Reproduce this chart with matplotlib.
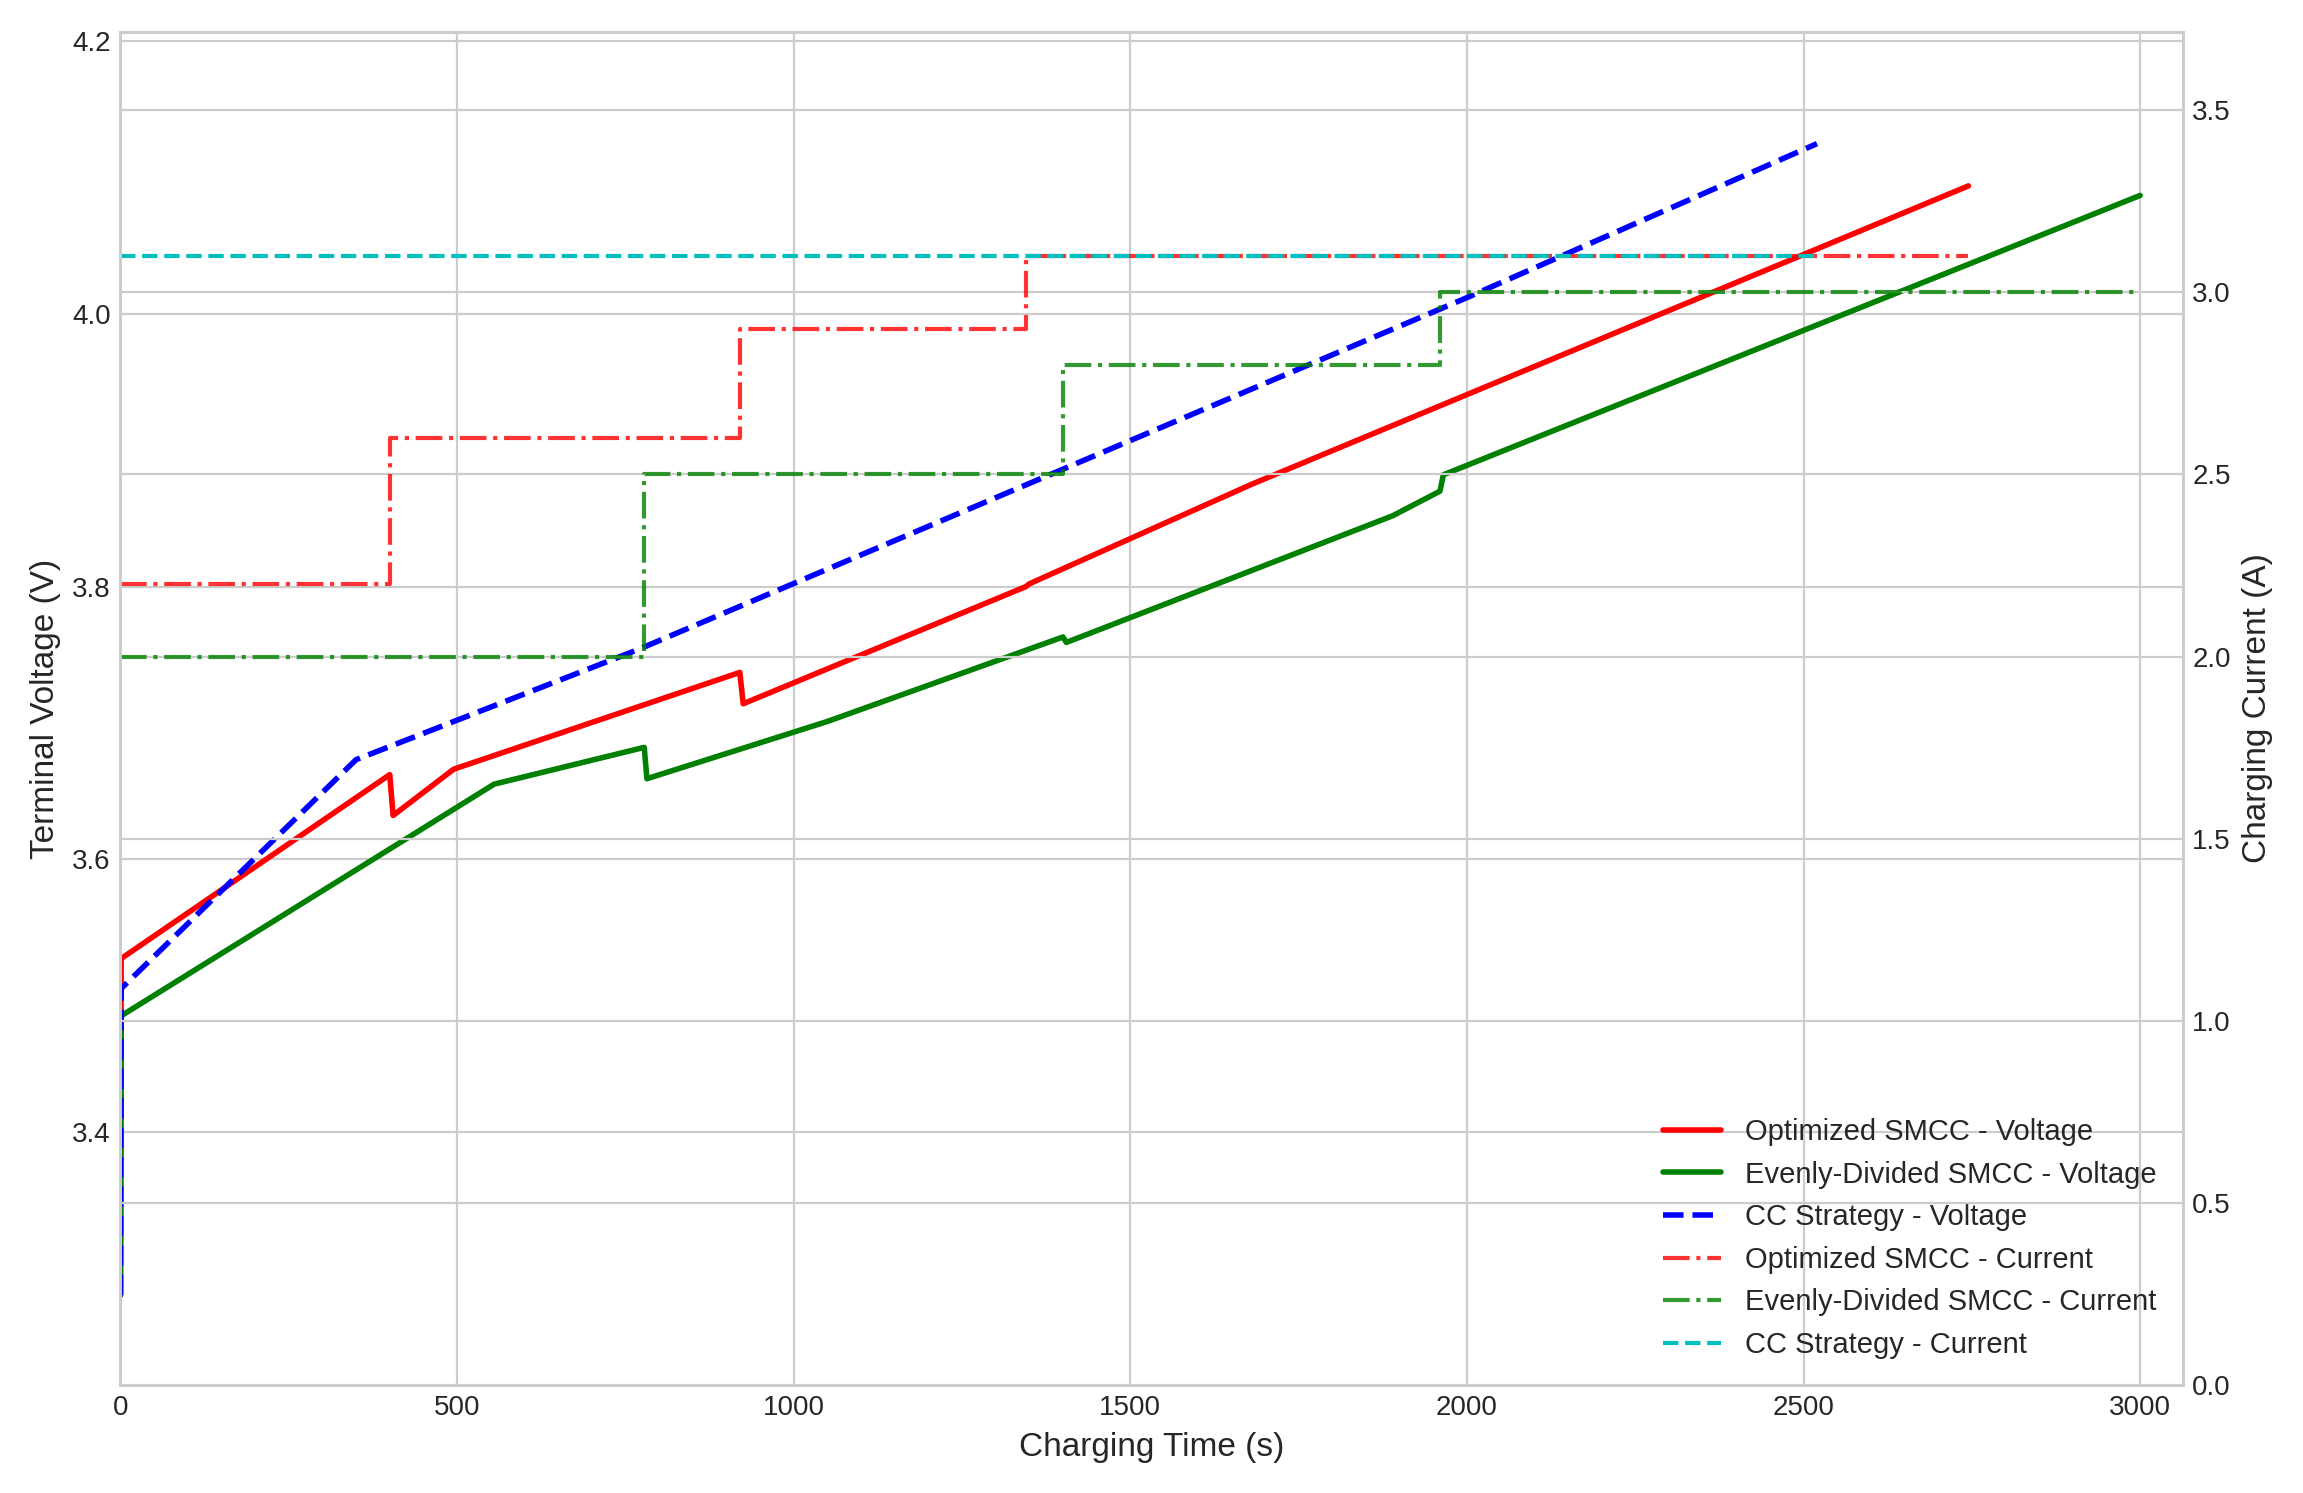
import matplotlib.pyplot as plt
import numpy as np

# voltage breakpoints (s, V)
optT = [0, 1, 400, 405, 495, 920, 925, 1345, 1350, 1680, 1850, 2745]
optV = [3.28, 3.527, 3.662, 3.632, 3.666, 3.737, 3.714, 3.800, 3.802, 3.875, 3.910, 4.094]
evenT = [0, 1, 555, 778, 782, 1050, 1400, 1405, 1890, 1960, 1965, 3000]
evenV = [3.28, 3.485, 3.655, 3.682, 3.659, 3.701, 3.763, 3.759, 3.852, 3.870, 3.882, 4.087]
ccT = [0, 1, 350, 770, 2000, 2520]
ccV = [3.28, 3.505, 3.673, 3.754, 4.012, 4.125]

# current steps (start time, current), last entry = end
optIt = [0, 400, 920, 1345, 2745]
optI = [2.2, 2.6, 2.9, 3.1]
evenIt = [0, 778, 1400, 1960, 3000]
evenI = [2.0, 2.5, 2.8, 3.0]
ccIt = [0, 2520]
ccI = [3.1]


def steps(ts, vals):
    x, y = [], []
    for i, v in enumerate(vals):
        x += [ts[i], ts[i + 1]]
        y += [v, v]
    return x, y


plt.style.use('seaborn-v0_8-whitegrid')
fig, ax = plt.subplots(figsize=(11.515, 7.465), dpi=200)
ax2 = ax.twinx()

l1, = ax.plot(optT, optV, 'r-', lw=2, label="Optimized SMCC - Voltage")
l2, = ax.plot(evenT, evenV, 'g-', lw=2, label="Evenly-Divided SMCC - Voltage")
l3, = ax.plot(ccT, ccV, 'b--', lw=2, label="CC Strategy - Voltage")

x, y = steps(optIt, optI)
l4, = ax2.plot(x, y, 'r-.', lw=1.5, alpha=0.8, label="Optimized SMCC - Current")
x, y = steps(evenIt, evenI)
l5, = ax2.plot(x, y, 'g-.', lw=1.5, alpha=0.8, label="Evenly-Divided SMCC - Current")
x, y = steps(ccIt, ccI)
l6, = ax2.plot(x, y, 'c--', lw=1.5, label="CC Strategy - Current")

ax.set_xlim(0, 3063)
ax.set_ylim(3.214, 4.207)
ax2.set_ylim(0, 3.715)
ax.set_yticks([3.4, 3.6, 3.8, 4.0, 4.2])
ax2.set_yticks(np.arange(0, 3.51, 0.5))
ax.set_xlabel("Charging Time (s)", fontsize=12)
ax.set_ylabel("Terminal Voltage (V)", fontsize=12)
ax2.set_ylabel("Charging Current (A)", fontsize=12)
for a in (ax, ax2):
    a.tick_params(labelsize=10)
    for s in a.spines.values():
        s.set_visible(True)
        s.set_color('#cccccc')

ax.legend(handles=[l1, l2, l3, l4, l5, l6], loc='lower right', fontsize=10.5)
fig.tight_layout()
fig.savefig('out.png')
